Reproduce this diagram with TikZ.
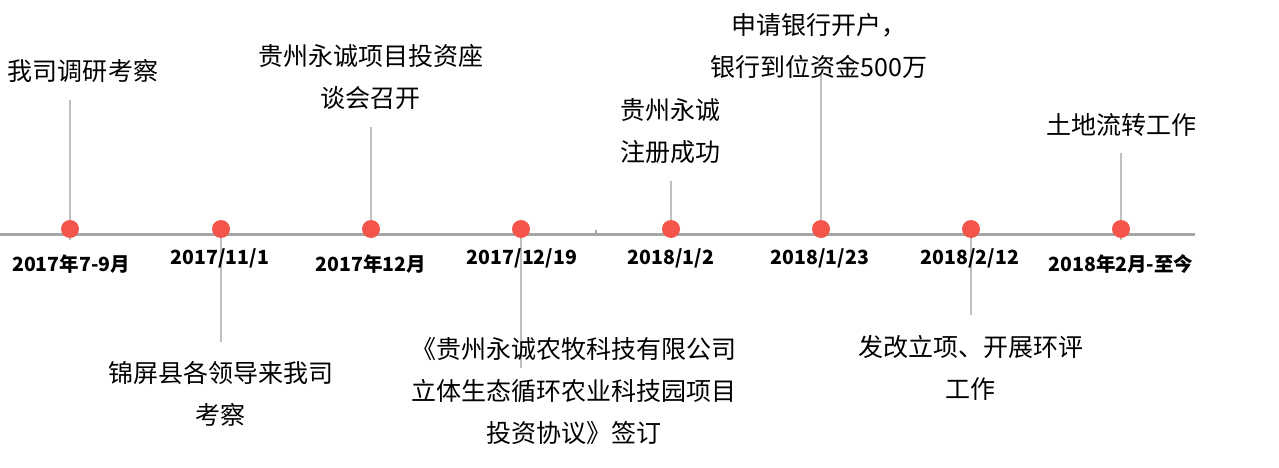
\documentclass[tikz,border=0pt]{standalone}
\usepackage{fontspec}
\setmainfont{Noto Sans CJK SC}
\usetikzlibrary{positioning}
\definecolor{punto}{HTML}{F4554A}
\definecolor{eje}{HTML}{A6A6A6}
\definecolor{palo}{HTML}{BFBFBF}
\tikzset{
	punto/.style={circle, fill=punto, minimum size=18pt, inner sep=0pt},
	eje/.style={draw=eje, line width=2.5pt},
	palo/.style={draw=palo, line width=2pt},
	fecha/.style={font=\bfseries\fontsize{19.5}{22}\selectfont, inner sep=0pt},
	hecho/.style={font=\fontsize{25}{42}\selectfont, align=center, inner sep=0pt}
}

\begin{document}
\begin{tikzpicture}[x=1pt,y=-1pt]
			\useasboundingbox (0,0) rectangle (1279,468);
			% eje
			\coordinate (ejeA) at (0,234.5);
			\coordinate (ejeB) at (1195,234.5);
			\draw[eje] (ejeA) -- (ejeB);
			\coordinate (marca) at (596,230);
			\draw[eje, line width=1.5pt] (marca) -- ++(0,4.5);
			
			% palos
			\coordinate (a1) at (70,100);   \coordinate (b1) at (70,240);
			\coordinate (a2) at (221,229);  \coordinate (b2) at (221,342);
			\coordinate (a3) at (371,127);  \coordinate (b3) at (371,229);
			\coordinate (a4) at (521,229);  \coordinate (b4) at (521,368);
			\coordinate (a5) at (671,181);  \coordinate (b5) at (671,229);
			\coordinate (a6) at (821,75);   \coordinate (b6) at (821,229);
			\coordinate (a7) at (971,229);  \coordinate (b7) at (971,315);
			\coordinate (a8) at (1121,153); \coordinate (b8) at (1121,240);
			\foreach \i in {1,...,8}
				\draw[palo] (a\i) -- (b\i);
			
			% puntos
			\node[punto] (p1) at (70,229) {};
			\node[punto] (p2) at (221,229) {};
			\node[punto] (p3) at (371,229) {};
			\node[punto] (p4) at (521,229) {};
			\node[punto] (p5) at (671,229) {};
			\node[punto] (p6) at (821,229) {};
			\node[punto] (p7) at (971,229) {};
			\node[punto] (p8) at (1121,229) {};
			
			% fechas
			\node[fecha] (f1) at (71,264) {2017年7-9月};
			\node[fecha] (f2) at (220,258.5) {2017/11/1};
			\node[fecha] (f3) at (371,264) {2017年12月};
			\node[fecha] (f4) at (522,258.5) {2017/12/19};
			\node[fecha] (f5) at (671,258.5) {2018/1/2};
			\node[fecha] (f6) at (820,258.5) {2018/1/23};
			\node[fecha] (f7) at (970,258.5) {2018/2/12};
			\node[fecha] (f8) at (1121,264) {2018年2月-至今};
			
			% hechos
			\node[hecho] (h1) at (83,71) {我司调研考察};
			\node[hecho] (h2) at (370.5,77) {贵州永诚项目投资座\\谈会召开};
			\node[hecho, align=left, anchor=west] (h3) at (620,131.5) {贵州永诚\\注册成功};
			\node[hecho] (h4) at (819,46) {申请银行开户，\\银行到位资金500万};
			\node[hecho] (h5) at (1121,125) {土地流转工作};
			\node[hecho] (h6) at (220.5,394) {锦屏县各领导来我司\\考察};
			\node[hecho] (h7) at (574,391) {《贵州永诚农牧科技有限公司\\立体生态循环农业科技园项目\\投资协议》签订};
			\node[hecho] (h8) at (970.5,367.5) {发改立项、开展环评\\工作};
		\end{tikzpicture}
\end{document}
